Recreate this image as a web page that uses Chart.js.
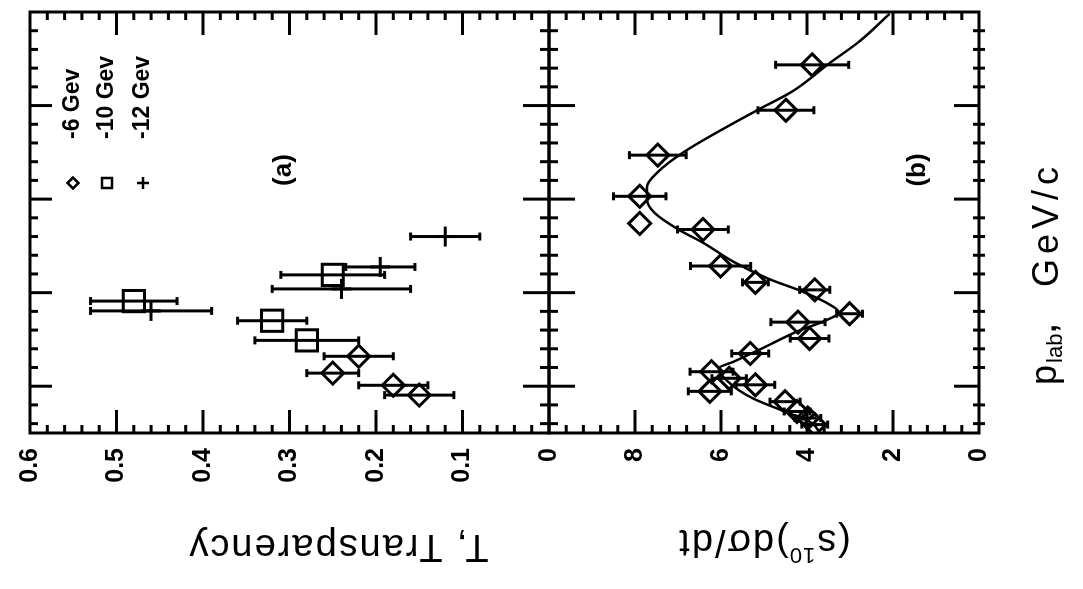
<!DOCTYPE html>
<html>
<head>
<meta charset="utf-8">
<script src="https://cdn.jsdelivr.net/npm/chart.js@4.4.0/dist/chart.umd.min.js"></script>
<style>
  html, body { margin: 0; padding: 0; background: #fff; overflow: hidden; }
  /* the figure is drawn upright and then turned a quarter turn, like the scan */
  #page { position: absolute; left: 0; top: 0; width: 589px; height: 1083px;
          transform-origin: 0 0; transform: translateY(589px) rotate(-90deg); background: #fff; }
  #page canvas { position: absolute; left: 0; top: 0; }
</style>
</head>
<body>
<div id="page">
  <canvas id="chartA" width="589" height="1083"></canvas>
  <canvas id="chartB" width="589" height="1083"></canvas>
</div>
<script>
// p_lab axis (GeV/c), no numbers printed
var pMin = 5, pMax = 14;

// panel (a): transparency T with errors, three beam settings
var legendLabels = ['-6 Gev', '-10 Gev', '-12 Gev'];

var pA6 = [6.64, 6.28, 6.02, 5.81];
var tA6 = [0.22, 0.25, 0.18, 0.15];
var eA6 = [0.04, 0.03, 0.04, 0.04];

var pA10 = [7.82, 7.40, 6.98, 8.38];
var tA10 = [0.48, 0.32, 0.28, 0.25];
var eA10 = [0.05, 0.04, 0.06, 0.06];

var pA12 = [7.61, 9.20, 8.55, 8.08];
var tA12 = [0.46, 0.12, 0.195, 0.24];
var eA12 = [0.07, 0.04, 0.04, 0.08];

// panel (b): s^10 dsigma/dt
var pB = [12.87, 11.90, 10.94, 10.06, 9.48, 9.35, 8.57, 8.22, 8.06, 7.55, 7.37,
          7.02, 6.70, 6.31, 6.17, 6.03, 5.89, 5.67, 5.46, 5.32, 5.18];
var sB = [3.88, 4.49, 7.47, 7.89, 7.89, 6.42, 6.01, 5.20, 3.82, 3.01, 4.21,
          3.94, 5.32, 6.22, 5.81, 5.20, 6.26, 4.51, 4.23, 3.98, 3.82];
var eB = [0.85, 0.65, 0.66, 0.61, 0, 0.59, 0.70, 0.30, 0.35, 0.30, 0.63,
          0.45, 0.43, 0.50, 0.40, 0.45, 0.50, 0.35, 0.30, 0.30, 0.30];

// fitted curve in panel (b)
var pFit = [5.0, 5.22, 5.47, 5.75, 6.11, 6.38, 6.53, 6.81, 7.17, 7.40, 7.58, 7.80, 8.04, 8.29,
            8.65, 9.07, 9.35, 9.71, 9.99, 10.26, 10.58, 10.98, 11.47, 11.90, 12.32, 12.89, 13.38, 13.96];
var sFit = [3.70, 3.90, 4.55, 5.28, 5.85, 6.05, 5.69, 5.04, 4.23, 3.58, 3.26, 3.58, 4.15, 4.88,
            5.69, 6.42, 6.99, 7.55, 7.72, 7.72, 7.47, 6.91, 6.01, 5.16, 4.31, 3.50, 2.77, 2.08];

function pts(xs, ys) { return xs.map((x, i) => ({ x: x, y: ys[i] })); }

function line(ctx, x1, y1, x2, y2) {
  ctx.beginPath(); ctx.moveTo(x1, y1); ctx.lineTo(x2, y2); ctx.stroke();
}

function errorBars(chart, sets) {
  var ctx = chart.ctx, xs = chart.scales.x, ys = chart.scales.y;
  ctx.save();
  ctx.strokeStyle = '#000';
  ctx.lineWidth = 3;
  sets.forEach(function (s) {
    s[0].forEach(function (p, i) {
      if (!s[2][i]) return;
      var x = xs.getPixelForValue(p);
      var y1 = ys.getPixelForValue(s[1][i] - s[2][i]);
      var y2 = ys.getPixelForValue(s[1][i] + s[2][i]);
      line(ctx, x, y1, x, y2);
      line(ctx, x - 4, y1, x + 4, y1);
      line(ctx, x - 4, y2, x + 4, y2);
    });
  });
  ctx.restore();
}

// frame, value ticks on both long sides, p_lab ticks on the given edges
function frame(chart, step, n, edges) {
  var ctx = chart.ctx, a = chart.chartArea, xs = chart.scales.x, ys = chart.scales.y;
  ctx.save();
  ctx.strokeStyle = '#000';
  ctx.lineWidth = 3;
  for (var k = 1; k < n; k++) {
    var y = ys.getPixelForValue(k * step);
    var len = k % 5 === 0 ? 23 : 8;
    line(ctx, a.left, y, a.left + len, y);
    line(ctx, a.right, y, a.right - len, y);
  }
  edges.forEach(function (e) {
    var y0 = e[0] === 'top' ? a.top : a.bottom;
    for (var j = -2; j < 20; j++) {
      var x = xs.getPixelForValue(6 + 0.4 * j);
      var m = j % 5 === 0;
      var up = m ? e[1] : e[3], down = m ? e[2] : e[4];
      line(ctx, x, y0 - up, x, y0 + down);
    }
  });
  ctx.strokeRect(a.left, a.top, a.right - a.left, a.bottom - a.top);
  ctx.restore();
}

// text turned to read bottom to top (an upright y title)
function sideText(ctx, parts, u, v) {
  ctx.save();
  ctx.translate(u, v);
  ctx.rotate(-Math.PI / 2);
  ctx.fillStyle = '#000';
  ctx.textBaseline = 'alphabetic';
  ctx.textAlign = 'left';
  var total = 0;
  parts.forEach(function (p) { ctx.font = p[1]; ctx.letterSpacing = p[3] || '0px'; total += ctx.measureText(p[0]).width; });
  var x = -total / 2;
  parts.forEach(function (p) {
    ctx.font = p[1]; ctx.letterSpacing = p[3] || '0px';
    ctx.fillText(p[0], x, -p[2]);
    x += ctx.measureText(p[0]).width;
  });
  ctx.restore();
}

var tickFont = { family: 'Liberation Sans', size: 25, weight: 'bold' };

var panelA = {
  id: 'panelA',
  beforeDatasetsDraw: function (chart) {
    errorBars(chart, [[pA6, tA6, eA6], [pA10, tA10, eA10], [pA12, tA12, eA12]]);
  },
  afterDraw: function (chart) {
    var ctx = chart.ctx;
    frame(chart, 0.02, 30, [['top', 0, 22, 0, 8]]);
    // legend
    ctx.save();
    ctx.strokeStyle = '#000';
    ctx.fillStyle = '#000';
    ctx.lineWidth = 2.5;
    var rows = [73, 107, 143], u = 406;
    ctx.beginPath();
    ctx.moveTo(u, rows[0] - 5.5); ctx.lineTo(u + 5.5, rows[0]);
    ctx.lineTo(u, rows[0] + 5.5); ctx.lineTo(u - 5.5, rows[0]); ctx.closePath(); ctx.stroke();
    ctx.strokeRect(u - 5, rows[1] - 5, 10, 10);
    line(ctx, u - 6, rows[2], u + 6, rows[2]);
    line(ctx, u, rows[2] - 6, u, rows[2] + 6);
    ctx.font = 'bold 23px "Liberation Sans"';
    ctx.textBaseline = 'middle';
    ctx.textAlign = 'left';
    legendLabels.forEach(function (t, i) { ctx.fillText(t, 450, rows[i]); });
    ctx.font = 'bold 26px "Liberation Sans"';
    ctx.textAlign = 'center';
    ctx.fillText('(a)', 419, 284);
    ctx.restore();
    sideText(ctx, [['T, Transparency', '38px "Liberation Sans"', 0, '2px']], 54, 338);
  }
};

var panelB = {
  id: 'panelB',
  beforeDatasetsDraw: function (chart) {
    errorBars(chart, [[pB, sB, eB]]);
  },
  afterDraw: function (chart) {
    var ctx = chart.ctx;
    frame(chart, 0.4, 25, [['top', 26, 26, 9, 9], ['bottom', 25, 0, 6, 6]]);
    ctx.save();
    ctx.fillStyle = '#000';
    ctx.font = 'bold 26px "Liberation Sans"';
    ctx.textAlign = 'center';
    ctx.textBaseline = 'middle';
    ctx.fillText('(b)', 419, 918);
    // p_lab, GeV/c
    ctx.textAlign = 'left';
    ctx.textBaseline = 'alphabetic';
    ctx.font = '36px "Liberation Sans"';
    ctx.fillText('p', 204, 1056);
    var u = 204 + ctx.measureText('p').width + 2;
    ctx.font = '22px "Liberation Sans"';
    ctx.fillText('lab', u, 1062);
    u += ctx.measureText('lab').width + 1;
    ctx.font = 'bold 30px "Liberation Sans"';
    ctx.fillText(',', u, 1056);
    ctx.font = '36px "Liberation Sans"';
    ctx.letterSpacing = '5px';
    ctx.fillText('GeV/c', 302, 1058);
    ctx.restore();
    sideText(ctx, [['(s', '38px "Liberation Sans"', 0, '2px'], ['10', '22px "Liberation Sans"', 18, '1px'],
                   [')d\u03c3/dt', '38px "Liberation Sans"', 0, '2px']], 59, 764);
  }
};

function valueAxis(min, max, step, cb) {
  return {
    type: 'linear', position: 'left', min: min, max: max,
    afterFit: function (s) { s.width = 60; },
    grid: { display: false, drawTicks: false },
    border: { display: false },
    ticks: { stepSize: step, padding: 15, color: '#000', font: tickFont, callback: cb }
  };
}

var common = {
  responsive: false,
  animation: false,
  events: [],
  plugins: { legend: { display: false }, tooltip: { enabled: false } }
};

new Chart(document.getElementById('chartA'), {
  type: 'scatter',
  data: {
    datasets: [
      { data: pts(pA6, tA6), pointStyle: 'rectRot', pointRadius: 11 },
      { data: pts(pA10, tA10), pointStyle: 'rect', pointRadius: 15 },
      { data: pts(pA12, tA12), pointStyle: 'cross', pointRadius: 10 }
    ].map(function (d) {
      return Object.assign(d, { borderColor: '#000', backgroundColor: 'rgba(0,0,0,0)', pointBorderWidth: 3 });
    })
  },
  options: Object.assign({}, common, {
    layout: { autoPadding: false, padding: { left: 96, right: 12, top: 24, bottom: 534 } },
    scales: {
      x: { type: 'linear', min: pMin, max: pMax, display: false },
      y: valueAxis(0, 0.6, 0.1, function (v) { return Math.abs(v) < 1e-9 ? '0' : v.toFixed(1); })
    }
  }),
  plugins: [panelA]
});

new Chart(document.getElementById('chartB'), {
  type: 'scatter',
  data: {
    datasets: [
      { data: pts(pFit, sFit), showLine: true, pointRadius: 0, borderColor: '#000', borderWidth: 2.5,
        cubicInterpolationMode: 'monotone' },
      { data: pts(pB, sB), pointStyle: 'rectRot', pointRadius: 11, borderColor: '#000',
        backgroundColor: 'rgba(0,0,0,0)', pointBorderWidth: 3 }
    ]
  },
  options: Object.assign({}, common, {
    layout: { autoPadding: false, padding: { left: 96, right: 12, top: 549, bottom: 104 } },
    scales: {
      x: { type: 'linear', min: pMin, max: pMax, display: false },
      y: valueAxis(0, 10, 2, function (v) { return v === 10 ? '' : String(v); })
    }
  }),
  plugins: [panelB]
});
</script>
</body>
</html>
